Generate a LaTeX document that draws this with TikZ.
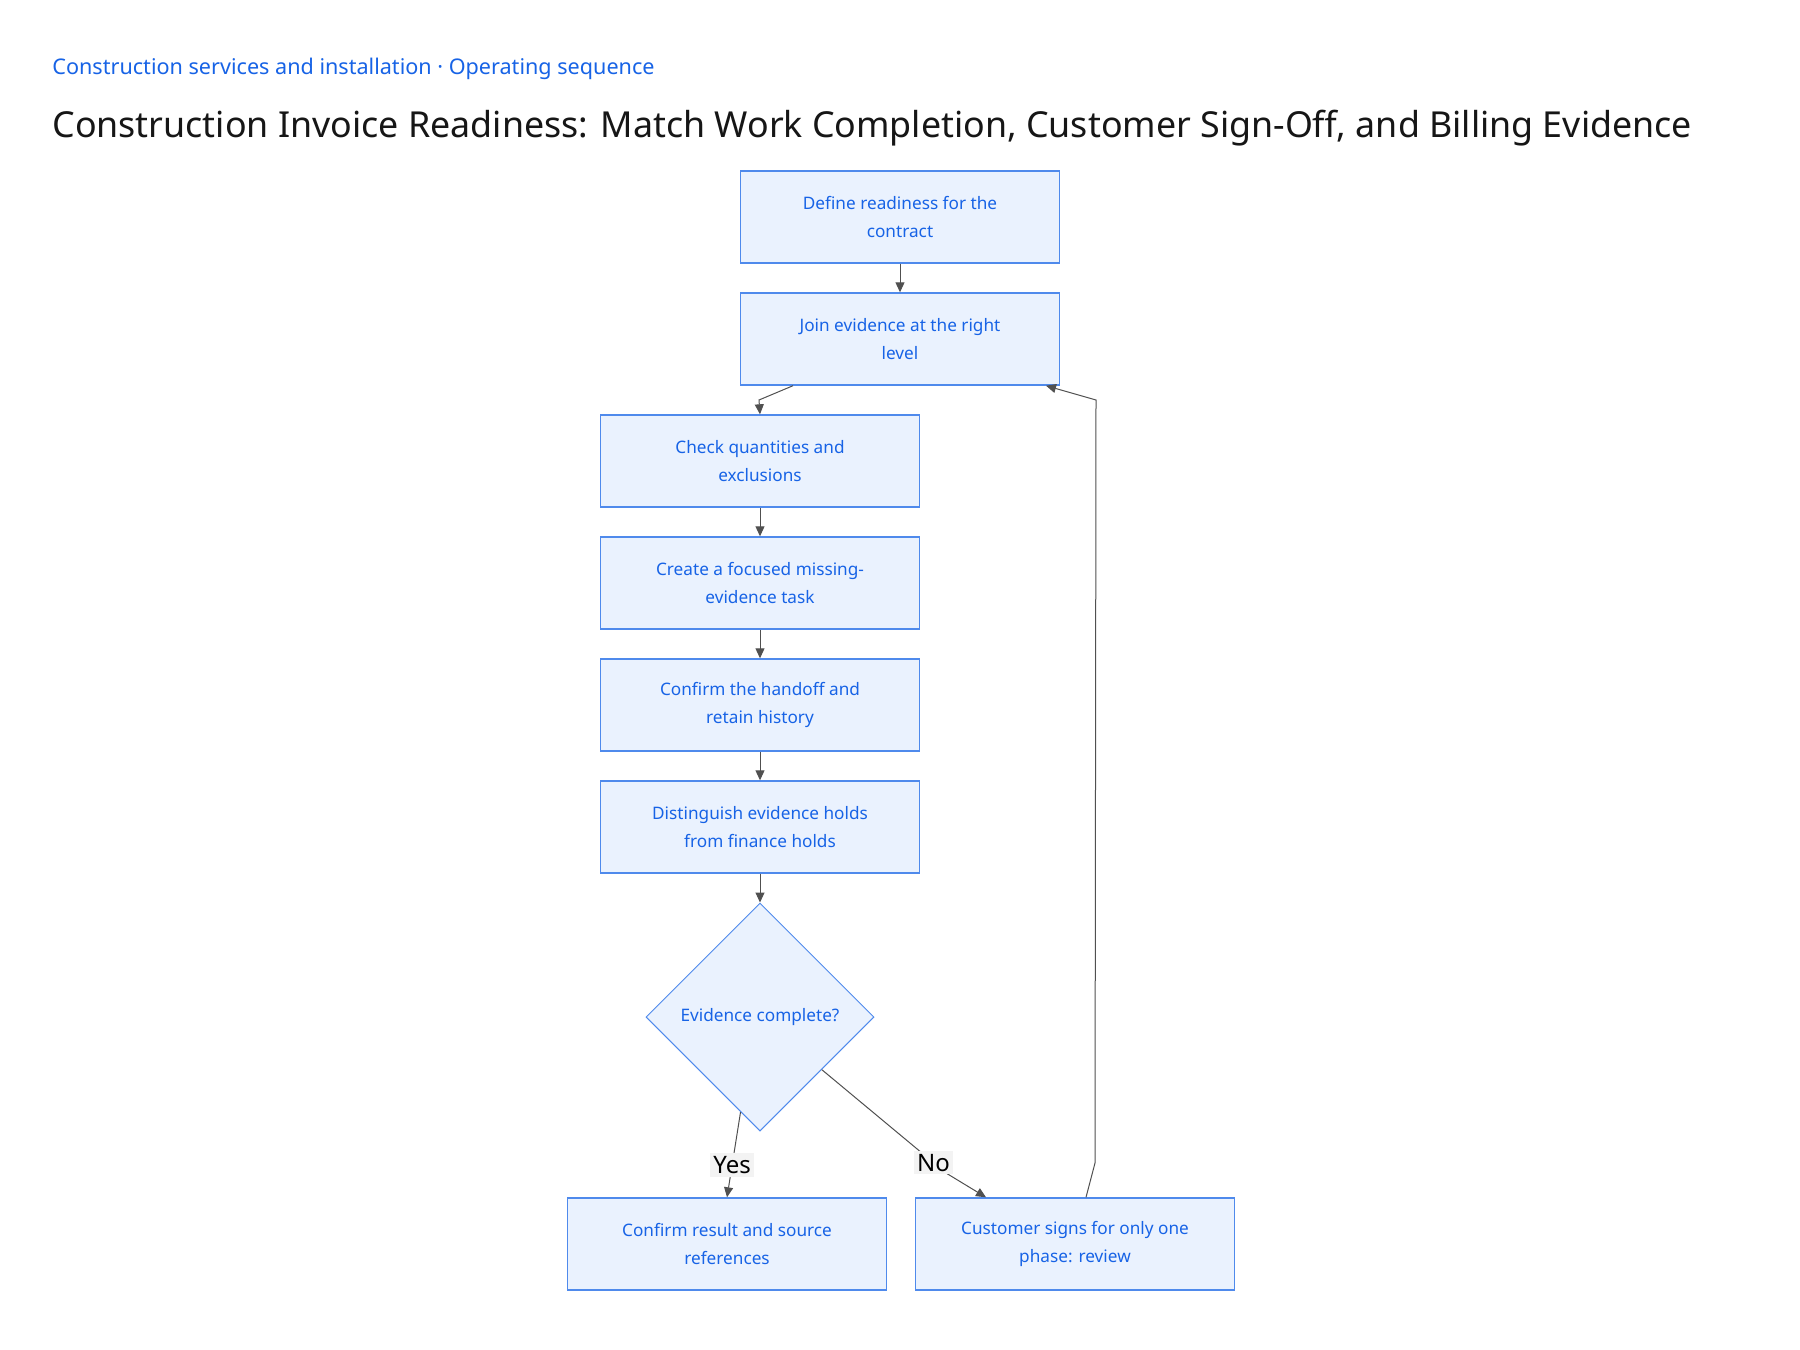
\documentclass[tikz,border=0pt]{standalone}
\usepackage{fontspec}
\setmainfont{Noto Sans}
\usetikzlibrary{arrows.meta,shapes.geometric,calc}
\definecolor{stepfill}{HTML}{EAF2FE}
\definecolor{stepline}{HTML}{4F8AEC}
\definecolor{steptext}{HTML}{1763E6}
\definecolor{linkgray}{HTML}{505050}
\definecolor{labelbg}{HTML}{F3F3F3}
\definecolor{titletext}{HTML}{161616}
\tikzstyle{node_step} = [rectangle, draw=stepline, fill=stepfill, text=steptext, line width=0.7pt, minimum width=159.5pt, minimum height=46pt, inner sep=0pt, align=center, font=\fontsize{8.6}{14}\selectfont]
\tikzstyle{node_check} = [diamond, draw=stepline, fill=stepfill, text=steptext, line width=0.5pt, minimum width=114pt, minimum height=114pt, inner sep=0pt, font=\fontsize{8.6}{14}\selectfont]
\tikzstyle{edge_flow} = [draw=linkgray, line width=0.5pt, -{Triangle[length=5pt,width=4.5pt]}]
\tikzstyle{edge_label} = [fill=labelbg, text=black, inner sep=1.5pt, font=\fontsize{12}{13}\selectfont]

\begin{document}
\begin{tikzpicture}[x=0.5pt,y=-0.5pt]
			\useasboundingbox[fill=white] (0,0) rectangle (1800,1350);
			\node (sub) at (52,74) [anchor=base west, inner sep=0pt, text=steptext, font=\fontsize{10.8}{12}\selectfont] {Construction services and installation · Operating sequence};
			\node (title) at (52,137) [anchor=base west, inner sep=0pt, text=titletext, font=\fontsize{17.9}{20}\selectfont] {Construction Invoice Readiness: Match Work Completion, Customer Sign-Off, and Billing Evidence};
			\node (define) at (900,217) [node_step] {Define readiness for the\\contract};
			\node (join) at (900,339) [node_step] {Join evidence at the right\\level};
			\node (quant) at (760,461) [node_step] {Check quantities and\\exclusions};
			\node (task) at (760,583) [node_step] {Create a focused missing-\\evidence task};
			\node (handoff) at (760,705) [node_step] {Confirm the handoff and\\retain history};
			\node (holds) at (760,827) [node_step] {Distinguish evidence holds\\from finance holds};
			\node (decide) at (760,1017) [node_check] {Evidence complete?};
			\node (result) at (727,1244) [node_step] {Confirm result and source\\references};
			\node (review) at (1075,1244) [node_step] {Customer signs for only one\\phase: review};
			\coordinate (bend_join) at (759,400);
			\coordinate (bend_no) at (946,1173);
			\coordinate (loop_low) at (1095,1163);
			\coordinate (loop_high) at (1096,400);
			\draw[edge_flow] (define)--(join);
			\draw[edge_flow] ([xshift=-53.5pt]join.south)--(bend_join)--(quant.north);
			\draw[edge_flow] (quant)--(task);
			\draw[edge_flow] (task)--(handoff);
			\draw[edge_flow] (handoff)--(holds);
			\draw[edge_flow] (holds)--(decide.north);
			\draw[edge_flow] ($(decide.south)!0.17!(decide.west)$)--node[edge_label, pos=0.62] {Yes} (result.north);
			\draw[edge_flow] ($(decide.east)!0.46!(decide.south)$)--node[edge_label, pos=0.9] {No} (bend_no)--([xshift=-44.5pt]review.north);
			\draw[edge_flow] ([xshift=5.5pt]review.north)--(loop_low)--(loop_high)--([xshift=73pt]join.south);
		\end{tikzpicture}
\end{document}
